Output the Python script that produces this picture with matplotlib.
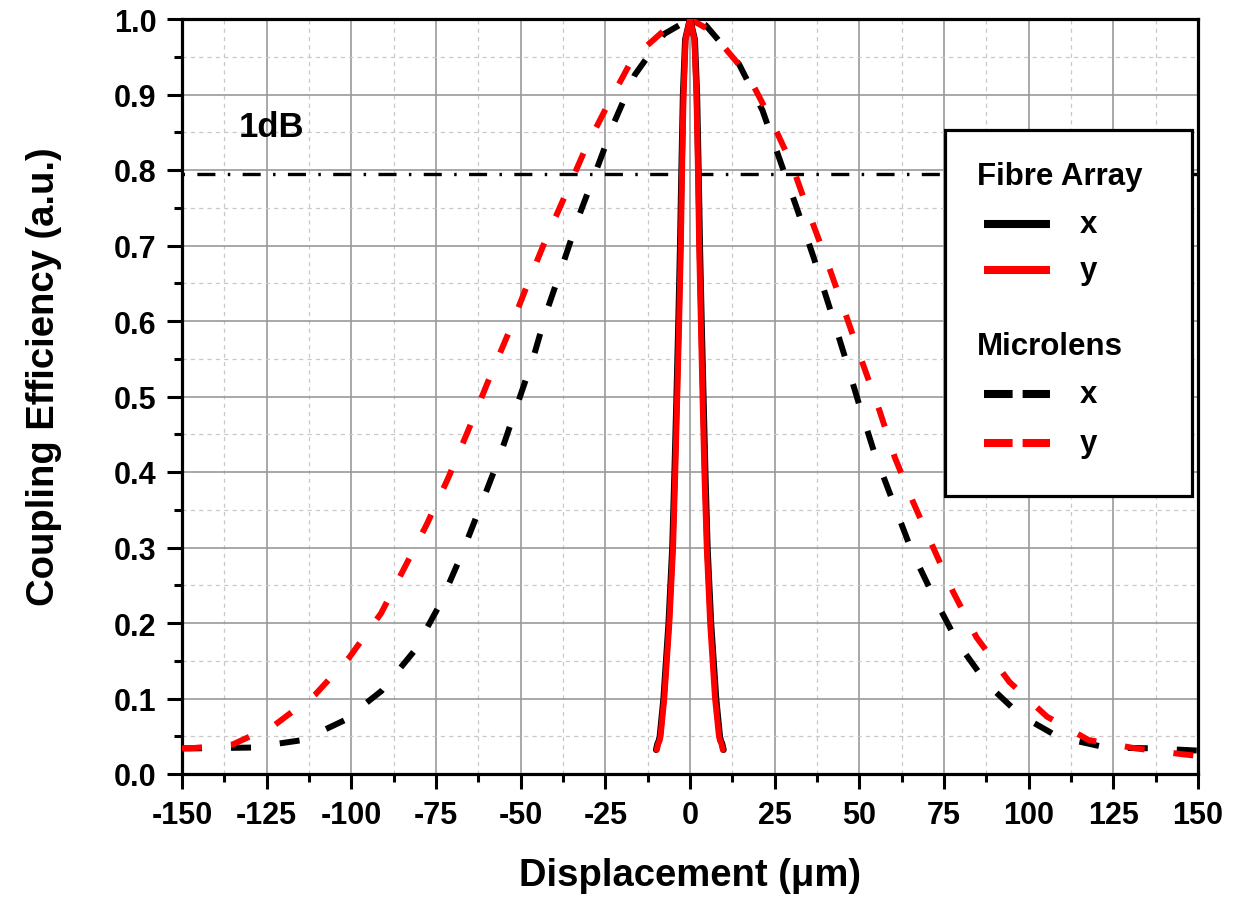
import matplotlib
matplotlib.use('Agg')
import matplotlib.pyplot as plt
from matplotlib.lines import Line2D
from matplotlib.patches import Rectangle
from matplotlib.ticker import MultipleLocator, FormatStrFormatter
import numpy as np

plt.rcParams['font.family'] = ['Liberation Sans', 'DejaVu Sans']
plt.rcParams['font.weight'] = 'bold'
plt.rcParams['axes.unicode_minus'] = False
plt.rcParams['lines.scale_dashes'] = False

# Fibre array, x and y scans (solid)
fibre_x_pos = [-10.0, -9.6, -9.2, -8.9, -7.8, -6.3, -5.2, -4.55, -3.95, -3.4, -2.9, -2.5,
               -2.05, -1.4, 0.0, 1.4, 2.05, 2.5, 2.9, 3.4, 3.95, 4.5, 5.15, 6.2, 7.7,
               8.8, 9.1, 9.5, 9.9]
fibre_x_ce = [0.032, 0.040, 0.044, 0.05, 0.1, 0.2, 0.3, 0.4, 0.5, 0.6, 0.7, 0.8,
              0.9, 0.973, 1.0, 0.973, 0.9, 0.8, 0.7, 0.6, 0.5, 0.4, 0.3, 0.2, 0.1,
              0.05, 0.044, 0.040, 0.032]

fibre_y_pos = [-9.8, -9.4, -9.0, -8.7, -7.6, -6.1, -5.0, -4.35, -3.77, -3.2, -2.7, -2.35,
               -1.9, -1.3, 0.0, 1.3, 1.9, 2.35, 2.7, 3.2, 3.7, 4.25, 4.95, 5.95, 7.4,
               8.55, 8.9, 9.3, 9.7]
fibre_y_ce = [0.032, 0.040, 0.044, 0.05, 0.1, 0.2, 0.3, 0.4, 0.5, 0.6, 0.7, 0.8,
              0.9, 0.973, 1.0, 0.973, 0.9, 0.8, 0.7, 0.6, 0.5, 0.4, 0.3, 0.2, 0.1,
              0.05, 0.044, 0.040, 0.032]

# Microlens, x and y scans (dashed)
lens_x_pos = [-150, -145.4, -129.6, -114.3, -102.1, -91.1, -81.4, -73.8, -67.7, -62,
              -56.4, -51.4, -46.3, -42.3, -37.4, -32.8, -27.4, -22.4, -16.3, -7.7, 0,
              4.6, 14.5, 21.4, 26.4, 31.5, 36.6, 41.2, 45.5, 49.9, 54.4, 59.9, 65.5,
              72.5, 79.3, 87.8, 97.5, 108.8, 122.9, 136.4, 150]
lens_x_ce = [0.034, 0.034, 0.035, 0.045, 0.071, 0.11, 0.163, 0.225, 0.288, 0.353,
             0.418, 0.484, 0.551, 0.613, 0.677, 0.739, 0.803, 0.863, 0.926, 0.98, 1.0,
             0.992, 0.94, 0.879, 0.815, 0.75, 0.683, 0.618, 0.556, 0.49, 0.426, 0.361,
             0.295, 0.23, 0.172, 0.119, 0.078, 0.049, 0.035, 0.034, 0.031]

lens_y_pos = [-150, -147.5, -135.1, -122.6, -110.5, -100.5, -91.2, -84.9, -77.8, -71.4,
              -65.5, -59.8, -53.7, -48.3, -42.6, -36.7, -30.7, -24.2, -16.9, -5.6, 0,
              5.9, 17.2, 24.1, 30, 35.2, 40.6, 45.8, 50.5, 55.9, 60.5, 65.8, 71.6,
              77.6, 84.6, 94.3, 105.4, 117.7, 131.5, 145.7, 150]
lens_y_ce = [0.034, 0.034, 0.039, 0.065, 0.106, 0.155, 0.213, 0.268, 0.33, 0.392,
             0.455, 0.518, 0.583, 0.645, 0.708, 0.768, 0.83, 0.887, 0.948, 0.993, 1.0,
             0.985, 0.925, 0.865, 0.808, 0.742, 0.677, 0.611, 0.55, 0.482, 0.419, 0.361,
             0.302, 0.242, 0.181, 0.122, 0.076, 0.045, 0.034, 0.026, 0.024]

one_db_level = 10 ** (-0.1)

fig = plt.figure(figsize=(12.39, 9.03), dpi=100)
ax = fig.add_axes([182 / 1239, 128 / 903, 1016 / 1239, 755 / 903])

# grid
ax.xaxis.set_major_locator(MultipleLocator(25))
ax.xaxis.set_minor_locator(MultipleLocator(12.5))
ax.yaxis.set_major_locator(MultipleLocator(0.1))
ax.yaxis.set_minor_locator(MultipleLocator(0.05))
ax.yaxis.set_major_formatter(FormatStrFormatter('%.1f'))
ax.grid(which='major', color='#999999', lw=1.2, ls='-', zorder=0)
ax.grid(which='minor', color='#c8c8c8', lw=0.9, ls=(0, (3, 3)), zorder=0)
ax.set_axisbelow(True)

lw = 4.3
dash = (0, (14.4, 20.9))
ax.plot(lens_x_pos, lens_x_ce, color='black', lw=lw, ls=dash, zorder=3)
ax.plot(lens_y_pos, lens_y_ce, color='red', lw=lw, ls=dash, zorder=3)
ax.plot(fibre_x_pos, fibre_x_ce, color='black', lw=lw + 0.3, zorder=4,
        solid_capstyle='round', solid_joinstyle='round')
ax.plot(fibre_y_pos, fibre_y_ce, color='red', lw=lw, zorder=5,
        solid_capstyle='round', solid_joinstyle='round')

# 1 dB line
ax.axhline(one_db_level, color='black', lw=2.4, ls=(21.9, (13, 8.9, 1.8, 8.9)), zorder=2)
ax.text(-123.5, 0.857, '1dB', fontsize=25, fontweight='bold', ha='center', va='center')

ax.set_xlim(-150, 150)
ax.set_ylim(0, 1.0)

for s in ax.spines.values():
    s.set_linewidth(2.3)
ax.tick_params(which='both', direction='out', top=False, right=False, width=2.2)
ax.tick_params(which='major', length=10.5, labelsize=22, pad=8)
ax.tick_params(which='minor', length=5.5)
for lab in ax.get_xticklabels() + ax.get_yticklabels():
    lab.set_fontweight('bold')

ax.set_xlabel('Displacement (\u03bcm)', fontsize=27.5, fontweight='bold')
ax.set_ylabel('Coupling Efficiency (a.u.)', fontsize=27.5, fontweight='bold')
ax.xaxis.set_label_coords(0.5, -0.11)
ax.yaxis.set_label_coords(-0.118, 0.527)

# legend drawn in axes coordinates
box = Rectangle((0.751, 0.368), 0.243, 0.485, transform=ax.transAxes,
                facecolor='white', edgecolor='black', lw=2.3, zorder=10)
ax.add_patch(box)
ax.text(0.782, 0.792, 'Fibre Array', transform=ax.transAxes, fontsize=22.5,
        fontweight='bold', va='center', zorder=11)
ax.text(0.782, 0.567, 'Microlens', transform=ax.transAxes, fontsize=22.5,
        fontweight='bold', va='center', zorder=11)
entries = [(0.728, 'black', '-', 'x'), (0.668, 'red', '-', 'y'),
           (0.503, 'black', (0, (20.6, 7.2)), 'x'), (0.439, 'red', (0, (20.6, 7.2)), 'y')]
for yy, col, style, name in entries:
    ax.add_line(Line2D([0.789, 0.854], [yy, yy], transform=ax.transAxes, color=col,
                       lw=5.8, ls=style, solid_capstyle='butt', zorder=11))
    ax.text(0.892, yy, name, transform=ax.transAxes, fontsize=22.5, fontweight='bold',
            ha='center', va='center', zorder=11)

fig.savefig('out.png', dpi=100)
